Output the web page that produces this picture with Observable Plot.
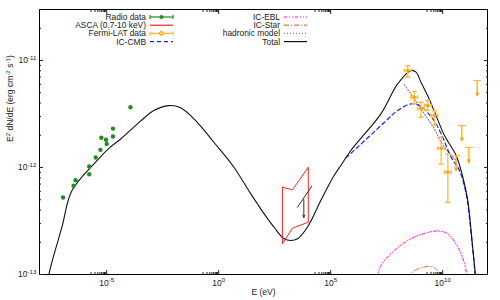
<!DOCTYPE html>
<html><head><meta charset="utf-8">
<script src="https://cdn.jsdelivr.net/npm/d3@7"></script>
<script src="https://cdn.jsdelivr.net/npm/@observablehq/plot@0.6"></script>
<style>body{margin:0;background:#fff} svg{display:block}</style>
</head><body><div id="chart"></div>
<script>
// ---------- data (log10 E [eV], log10 E^2dN/dE [erg cm^-2 s^-1]) ----------
const radioLogE = [-3.94, -4.72, -4.72, -5.24, -5.03, -5.00, -5.28, -5.49, -5.78, -5.78, -6.39, -6.48, -6.95];
const radioLogF = [-11.436, -11.636, -11.71, -11.722, -11.741, -11.779, -11.835, -11.907, -11.991, -12.063, -12.119, -12.171, -12.28];

const asscaLogE = [2.845, 3.293, 4.0, 4.0, 3.293, 2.845, 2.845];
const asscaLogF = [-12.184, -12.208, -11.997, -12.511, -12.567, -12.713, -12.184];

const xulLineLogE = [3.517, 4.157];
const xulLineLogF = [-12.371, -12.175];
const xulArrowLogE = [3.80];
const xulArrowLogF = [-12.30];

const fermiLogE   = [8.44, 8.73, 9.03, 9.33, 9.63, 9.93, 10.23];
const fermiLogElo = [8.29, 8.58, 8.88, 9.18, 9.48, 9.78, 10.08];
const fermiLogEhi = [8.59, 8.88, 9.18, 9.48, 9.78, 10.08, 10.38];
const fermiF   = [8.07e-12, 4.54e-12, 3.54e-12, 3.80e-12, 3.06e-12, 1.51e-12, 9.04e-13];
const fermiFlo = [6.98e-12, 3.94e-12, 2.95e-12, 3.41e-12, 2.47e-12, 1.08e-12, 4.74e-13];
const fermiFhi = [8.97e-12, 5.13e-12, 4.08e-12, 4.23e-12, 3.41e-12, 1.92e-12, 1.34e-12];
const fermiUlE = [3.98e10, 7.16e10, 1.47e11, 3.46e11];
const fermiUlF = [1.29e-12, 2.47e-12, 1.54e-12, 6.50e-12];

const totalLogE = [-7.62, -7.58, -7.0, -6.55, -5.43, -4.84, -4.39, -3.49, -2.90, -2.23, -1.70, -0.96, -0.215, 0.68, 1.43, 1.73, 1.875, 2.47, 2.92, 3.22, 3.52, 3.96, 4.56, 5.15, 5.45, 5.90, 7.24, 7.99, 8.59, 8.81, 9.03, 9.33, 9.63, 10.08, 10.60, 10.90, 11.12, 11.35, 11.46, 11.48];
const totalLogF = [-13.1, -13.0, -12.558, -12.215, -11.935, -11.810, -11.736, -11.567, -11.467, -11.421, -11.442, -11.577, -11.764, -11.997, -12.246, -12.339, -12.386, -12.558, -12.666, -12.682, -12.666, -12.558, -12.308, -12.075, -11.981, -11.841, -11.498, -11.218, -11.093, -11.109, -11.203, -11.33, -11.475, -11.701, -11.888, -12.091, -12.308, -12.776, -13.0, -13.1];

const cmbLogE = [5.68, 6.20, 7.39, 7.99, 8.59, 8.96, 9.56, 9.93, 10.38, 10.75, 11.05, 11.27, 11.37, 11.44, 11.46];
const cmbLogF = [-11.91, -11.81, -11.579, -11.467, -11.405, -11.421, -11.545, -11.685, -11.904, -12.028, -12.25, -12.62, -12.82, -13.0, -13.1];

const hadLogE = [8.29, 8.73, 9.18, 9.63, 9.93, 10.38, 10.60];
const hadLogF = [-11.227, -11.358, -11.498, -11.638, -11.764, -11.888, -11.935];

const eblLogE = [7.07, 7.24, 7.84, 8.44, 9.03, 9.78, 10.23, 10.68, 10.96, 11.10];
const eblLogF = [-13.03, -12.916, -12.776, -12.682, -12.626, -12.593, -12.620, -12.745, -12.888, -13.03];

const starLogE = [8.44, 8.74, 9.15, 9.45, 9.72, 9.97];
const starLogF = [-13.03, -12.963, -12.932, -12.925, -12.949, -13.03];

const xTickLabels = [1e-5, 1, 1e5, 1e10];
const yTickLabels = [1e-13, 1e-12, 1e-11];

// ---------- build tables ----------
const pts = (le, lf) => le.map((e, i) => ({E: 10 ** e, F: 10 ** lf[i]}));
const radio = pts(radioLogE, radioLogF);
const ascaPoly = pts(asscaLogE, asscaLogF);
const xulLine = pts(xulLineLogE, xulLineLogF);
const xulArrow = pts(xulArrowLogE, xulArrowLogF);
const total = pts(totalLogE, totalLogF);
const cmb = pts(cmbLogE, cmbLogF);
const had = pts(hadLogE, hadLogF);
const ebl = pts(eblLogE, eblLogF);
const star = pts(starLogE, starLogF);
const fermi = fermiLogE.map((e, i) => ({E: 10 ** e, Elo: 10 ** fermiLogElo[i], Ehi: 10 ** fermiLogEhi[i], F: fermiF[i], lo: fermiFlo[i], hi: fermiFhi[i]}));
const fermiUL = fermiUlE.map((E, i) => ({E, F: fermiUlF[i]}));

const xMinor = [];
for (const t of xTickLabels) for (let k = 2; k <= 9; k++) xMinor.push(k * t / 10);
const yMinor = [];
for (const t of yTickLabels) for (let k = 2; k <= 9; k++) if (k * t <= 3e-11) yMinor.push(k * t);

const hcap = {draw(c, s) { const r = Math.sqrt(s / Math.PI); c.moveTo(-r, 0); c.lineTo(r, 0); }};
const vcap = {draw(c, s) { const r = Math.sqrt(s / Math.PI); c.moveTo(0, -r); c.lineTo(0, r); }};

const C = {radio: "#228b22", asca: "#ff2020", fermi: "#ffa500", fermiBar: "#ffb940", cmb: "#2020ff", ebl: "#ff00ff", star: "#e07838", had: "#808080", total: "#111111", ul: "#333333"};
const fmt = d => "10^" + Math.round(Math.log10(d));
const blank = () => "";

const plot = Plot.plot({
  width: 500, height: 300,
  marginLeft: 39, marginRight: 13, marginTop: 9, marginBottom: 26,
  x: {type: "log", domain: [1e-8, 1e12]},
  y: {type: "log", domain: [1e-13, 3e-11]},
  style: {fontFamily: "'Liberation Sans', Arial, sans-serif", fontSize: "8.5px", background: "white", color: "#222"},
  marks: [
    Plot.line(star, {x: "E", y: "F", stroke: C.star, strokeWidth: 1, strokeDasharray: "5,2,1,2", curve: "catmull-rom", clip: true}),
    Plot.line(ebl, {x: "E", y: "F", stroke: C.ebl, strokeWidth: 1, strokeDasharray: "3,2,1,2,1,2", curve: "catmull-rom", clip: true}),
    Plot.line(had, {x: "E", y: "F", stroke: C.had, strokeWidth: 1.2, strokeDasharray: "1,2", curve: "catmull-rom", clip: true}),
    Plot.line(cmb, {x: "E", y: "F", stroke: C.cmb, strokeWidth: 1.2, strokeDasharray: "4,3", curve: "catmull-rom", clip: true}),
    Plot.line(total, {x: "E", y: "F", stroke: C.total, strokeWidth: 1.1, curve: "catmull-rom", clip: true}),
    Plot.line(ascaPoly, {x: "E", y: "F", stroke: C.asca, strokeWidth: 1}),
    Plot.line(xulLine, {x: "E", y: "F", stroke: C.ul, strokeWidth: 1}),
    Plot.arrow(xulArrow, {x: "E", y1: "F", y2: d => d.F * 0.68, stroke: C.ul, strokeWidth: 1, headLength: 4, headAngle: 45}),
    Plot.dot(radio, {x: "E", y: "F", r: 2.2, fill: C.radio}),
    Plot.ruleX(fermi, {x: "E", y1: "lo", y2: "hi", stroke: C.fermiBar, strokeWidth: 1.3}),
    Plot.ruleY(fermi, {y: "F", x1: "Elo", x2: "Ehi", stroke: C.fermiBar, strokeWidth: 1.3}),
    Plot.dot(fermi, {x: "E", y: "hi", symbol: hcap, r: 2.5, stroke: C.fermiBar, fill: "none"}),
    Plot.dot(fermi, {x: "E", y: "lo", symbol: hcap, r: 2.5, stroke: C.fermiBar, fill: "none"}),
    Plot.dot(fermi, {x: "Elo", y: "F", symbol: vcap, r: 2, stroke: C.fermiBar, fill: "none"}),
    Plot.dot(fermi, {x: "Ehi", y: "F", symbol: vcap, r: 2, stroke: C.fermiBar, fill: "none"}),
    Plot.dot(fermi, {x: "E", y: "F", r: 1.8, fill: C.fermi}),
    Plot.arrow(fermiUL, {x: "E", y1: "F", y2: d => d.F * 0.72, stroke: C.fermi, strokeWidth: 1.2, headLength: 4, headAngle: 45}),
    Plot.dot(fermiUL, {x: "E", y: "F", symbol: hcap, r: 4, stroke: C.fermiBar, strokeWidth: 1.2, fill: "none"}),
    Plot.frame({stroke: "#000", strokeWidth: 1}),
    Plot.axisX({ticks: xTickLabels, tickFormat: fmt, tickSize: 0, tickPadding: 5, anchor: "bottom", label: null, className: "supx"}),
    Plot.axisX({ticks: xTickLabels, tickFormat: blank, tickSize: -4, anchor: "bottom", label: null}),
    Plot.axisX({ticks: xTickLabels, tickFormat: blank, tickSize: -4, anchor: "top", label: null}),
    Plot.axisX({ticks: xMinor, tickFormat: blank, tickSize: -2, anchor: "bottom", label: null}),
    Plot.axisX({ticks: xMinor, tickFormat: blank, tickSize: -2, anchor: "top", label: null}),
    Plot.axisY({ticks: yTickLabels, tickFormat: fmt, tickSize: 0, tickPadding: 3, anchor: "left", label: null, className: "supy"}),
    Plot.axisY({ticks: yTickLabels, tickFormat: blank, tickSize: -4, anchor: "left", label: null}),
    Plot.axisY({ticks: yTickLabels, tickFormat: blank, tickSize: -4, anchor: "right", label: null}),
    Plot.axisY({ticks: yMinor, tickFormat: blank, tickSize: -2, anchor: "left", label: null}),
    Plot.axisY({ticks: yMinor, tickFormat: blank, tickSize: -2, anchor: "right", label: null}),
    Plot.text(["E (eV)"], {frameAnchor: "bottom", dy: 20, fill: "#222"}),
    Plot.text(["YLABEL"], {frameAnchor: "left", rotate: -90, dx: -29, fill: "#222", className: "ylab"})
  ]
});
document.getElementById("chart").append(plot);

// superscripts for tick labels
const NS = "http://www.w3.org/2000/svg";
function setSup(el, parts) {
  el.textContent = "";
  let up = false;
  for (const [txt, isSup] of parts) {
    const t = document.createElementNS(NS, "tspan");
    t.textContent = txt;
    if (isSup && !up) { t.setAttribute("dy", "-3.5"); t.setAttribute("font-size", "6.2"); up = true; }
    else if (isSup) { t.setAttribute("font-size", "6.2"); }
    else if (!isSup && up) { t.setAttribute("dy", "3.5"); up = false; }
    el.appendChild(t);
  }
}
plot.querySelectorAll(".supx text, .supy text").forEach(el => {
  const m = el.textContent.match(/^10\^(-?\d+)$/);
  if (m) setSup(el, [["10", false], [m[1], true]]);
});
plot.querySelectorAll(".ylab text").forEach(el => {
  setSup(el, [["E", false], ["2", true], [" dN/dE (erg cm", false], ["-2", true], [" s", false], ["-1", true], [")", false]]);
});

// legend
const svg = d3.select(plot);
const lg = svg.append("g").attr("font-family", "'Liberation Sans', Arial, sans-serif").attr("font-size", 8.4);
const rowY = i => 17 + i * 8.2;
const legendItems = [
  {col: 0, row: 0, label: "Radio data", kind: "radio"},
  {col: 0, row: 1, label: "ASCA (0.7-10 keV)", kind: "asca"},
  {col: 0, row: 2, label: "Fermi-LAT data", kind: "fermi"},
  {col: 0, row: 3, label: "IC-CMB", kind: "cmb"},
  {col: 1, row: 0, label: "IC-EBL", kind: "ebl"},
  {col: 1, row: 1, label: "IC-Star", kind: "star"},
  {col: 1, row: 2, label: "hadronic model", kind: "had"},
  {col: 1, row: 3, label: "Total", kind: "total"}
];
const legendStyle = {
  radio: [C.radio, null, 1.2], asca: [C.asca, null, 1.2], fermi: [C.fermiBar, null, 1.4], cmb: [C.cmb, "4,3", 1.2],
  ebl: [C.ebl, "3,2,1,2,1,2", 1.2], star: [C.star, "5,2,1,2", 1.2], had: [C.had, "1,2", 1.2], total: [C.total, null, 1.2]
};
const colText = [146, 280], colX1 = [150, 284], colX2 = [173, 307];
for (const it of legendItems) {
  const y = rowY(it.row), x1 = colX1[it.col], x2 = colX2[it.col];
  const st = legendStyle[it.kind];
  lg.append("text").attr("x", colText[it.col]).attr("y", y).attr("dy", "0.35em").attr("text-anchor", "end").attr("fill", "#222").text(it.label);
  const ln = lg.append("line").attr("x1", x1).attr("x2", x2).attr("y1", y).attr("y2", y)
    .attr("fill", "none").style("stroke", st[0]).style("stroke-width", st[2]);
  if (st[1]) ln.style("stroke-dasharray", st[1]);
  if (it.kind === "radio" || it.kind === "fermi") {
    for (const x of [x1, x2]) lg.append("line").attr("x1", x).attr("x2", x).attr("y1", y - 2).attr("y2", y + 2).style("stroke", st[0]).style("stroke-width", st[2]);
    lg.append("circle").attr("cx", (x1 + x2) / 2).attr("cy", y).attr("r", 2)
      .style("fill", it.kind === "radio" ? C.radio : "#ffd27a").style("stroke", it.kind === "radio" ? "none" : C.fermi);
  }
}
</script></body></html>
